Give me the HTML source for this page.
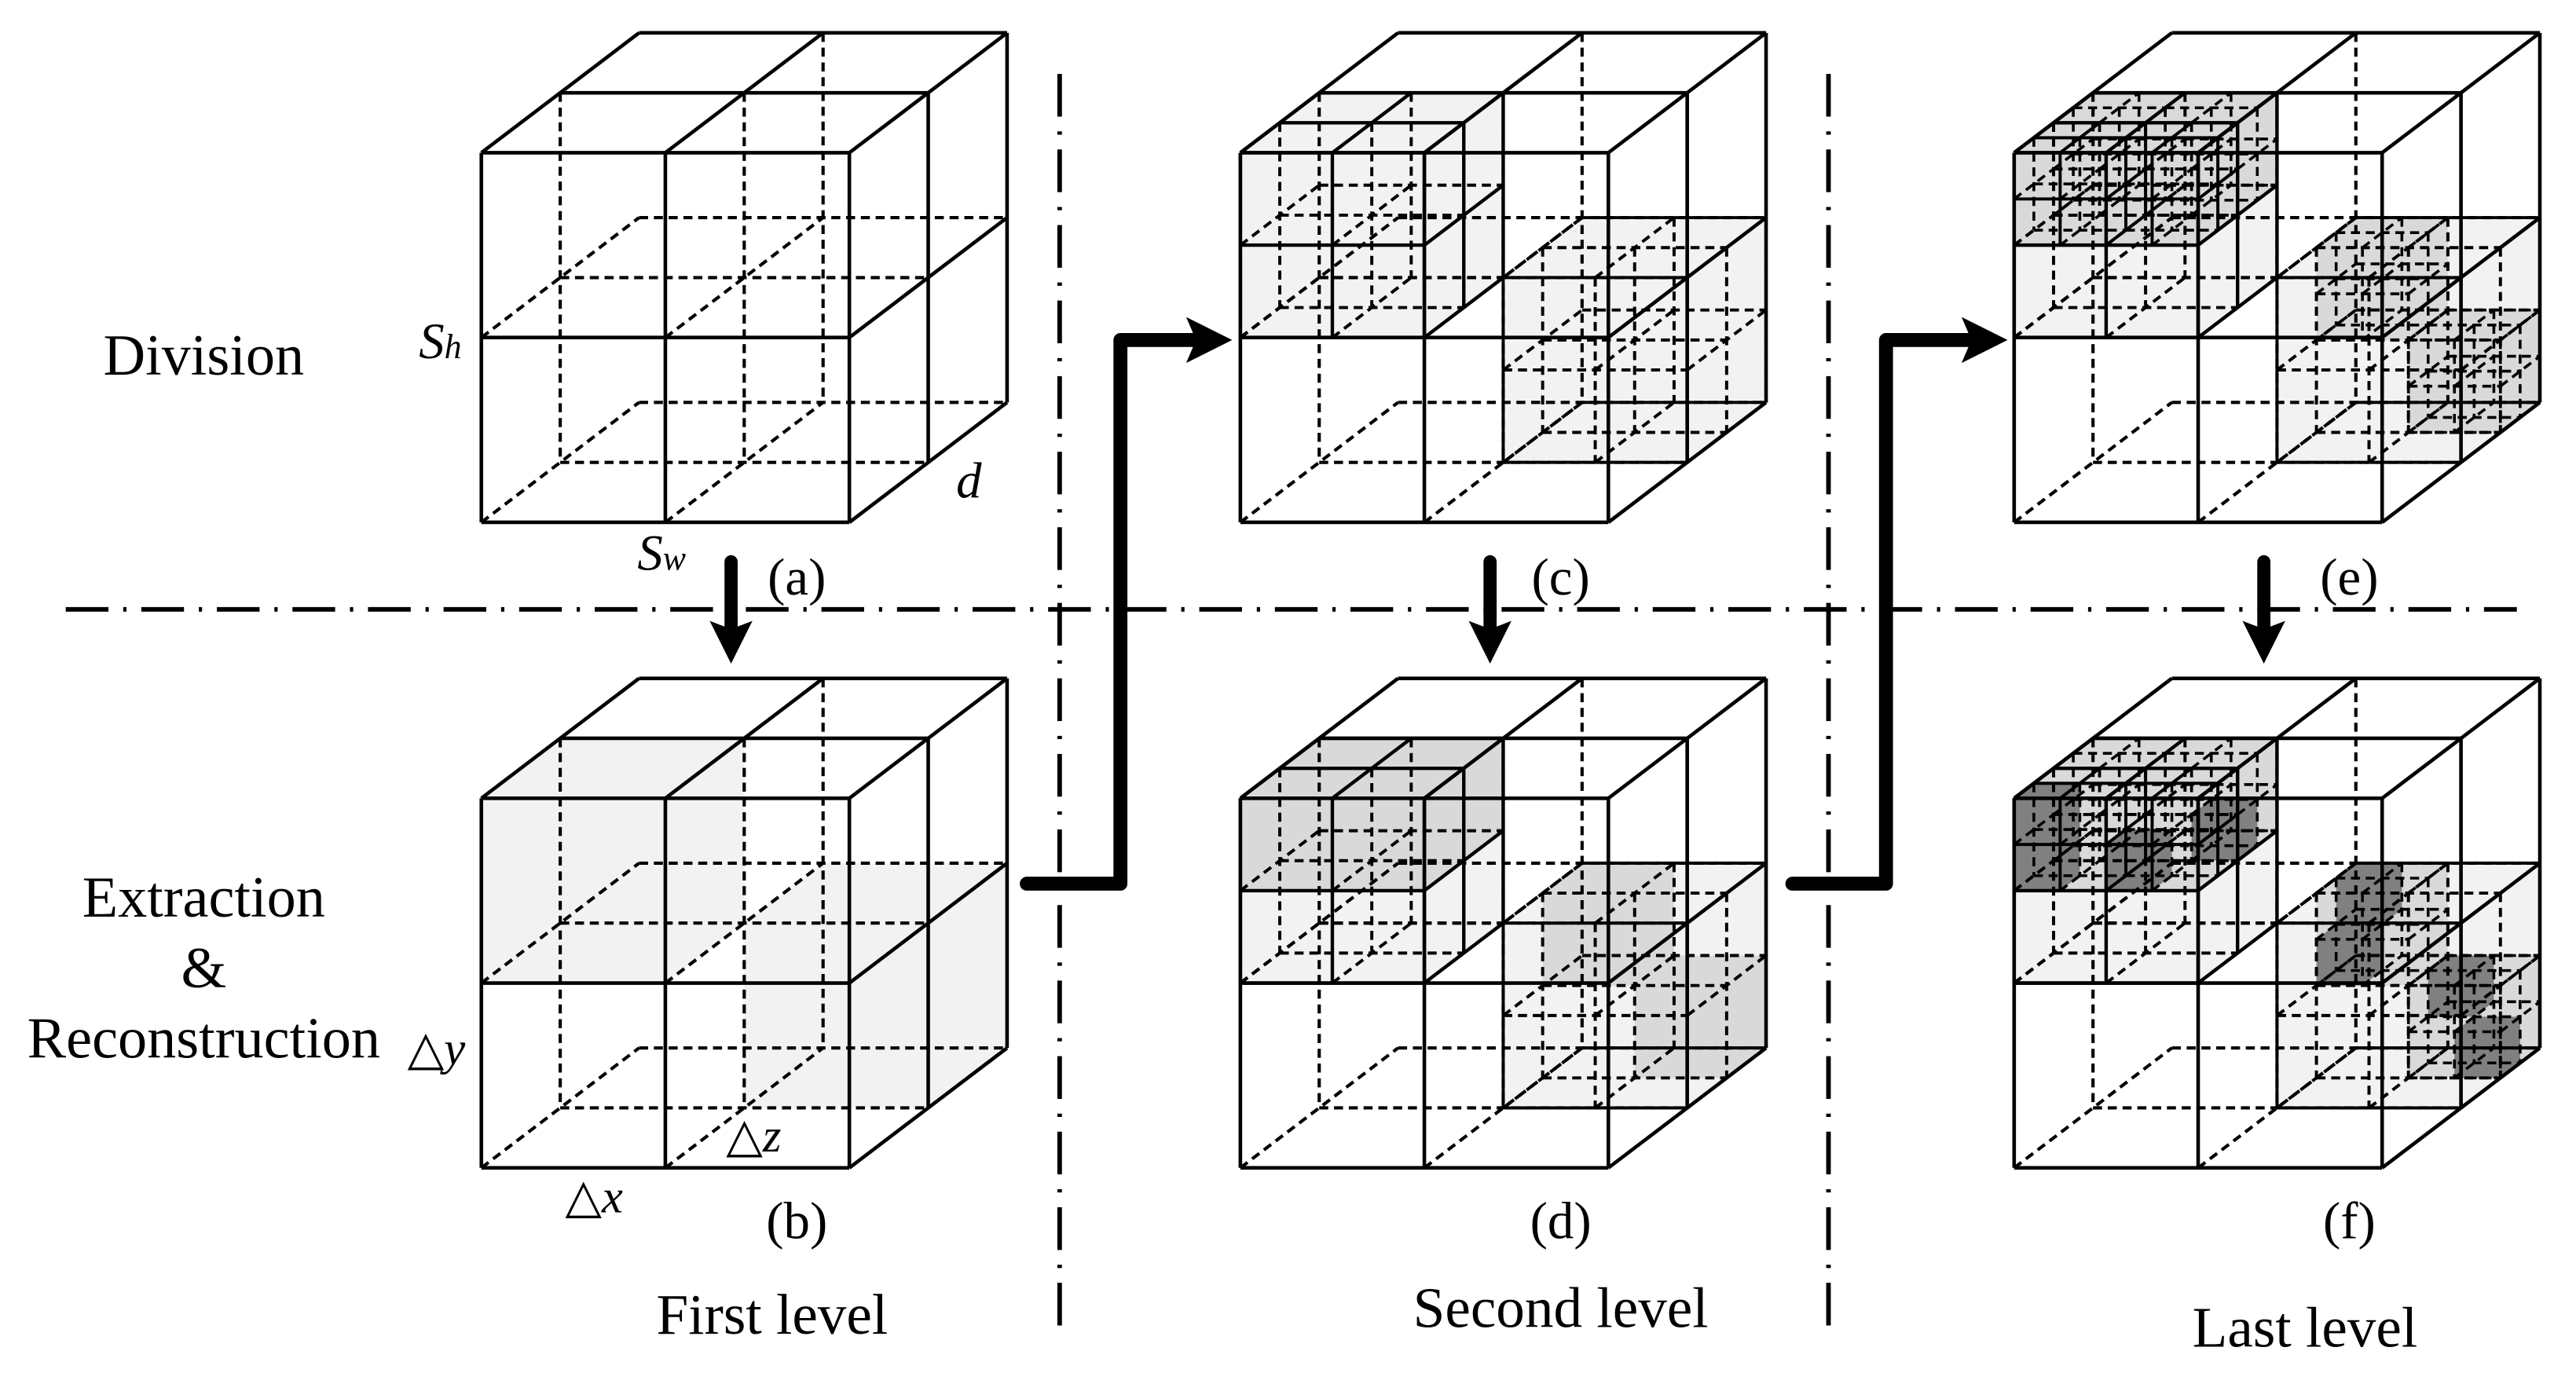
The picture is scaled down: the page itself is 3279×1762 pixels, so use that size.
<!DOCTYPE html>
<html><head><meta charset="utf-8">
<style>
html,body{margin:0;padding:0;background:#fff;}
svg{display:block;}
text{font-family:"Liberation Serif","DejaVu Serif",serif;fill:#000;}
</style></head>
<body>
<svg id="s" xmlns="http://www.w3.org/2000/svg" width="3279" height="1762" viewBox="0 0 1568 842.6" preserveAspectRatio="none">
<rect x="0" y="0" width="1568" height="842.6" fill="#fff"/>
<g id="fills"></g>
<g id="lines" stroke="#000" fill="none" stroke-linecap="butt"></g>
<g id="ann">
  <line x1="40" y1="371" x2="1532" y2="371" stroke="#000" stroke-width="2.8" stroke-dasharray="26 9 2 9"/>
  <line x1="645" y1="45" x2="645" y2="808" stroke="#000" stroke-width="2.8" stroke-dasharray="26 9 2 9"/>
  <line x1="1113" y1="45" x2="1113" y2="808" stroke="#000" stroke-width="2.8" stroke-dasharray="26 9 2 9"/>
  <g stroke="#000" stroke-width="8" stroke-linecap="round" fill="none">
    <line x1="445" y1="342" x2="445" y2="382"/>
    <line x1="907" y1="342" x2="907" y2="382"/>
    <line x1="1378" y1="342" x2="1378" y2="382"/>
  </g>
  <path d="M432 378 L445 383 L458 378 L445 404 Z" fill="#000"/>
  <path d="M894 378 L907 383 L920 378 L907 404 Z" fill="#000"/>
  <path d="M1365 378 L1378 383 L1391 378 L1378 404 Z" fill="#000"/>
  <polyline points="625,538 682,538 682,207 730,207" stroke="#000" stroke-width="8.5" fill="none" stroke-linejoin="round" stroke-linecap="round"/>
  <path d="M722 193 L750 207 L722 221 L728 207 Z" fill="#000"/>
  <polyline points="1091,538 1148,538 1148,207 1200,207" stroke="#000" stroke-width="8.5" fill="none" stroke-linejoin="round" stroke-linecap="round"/>
  <path d="M1194 193 L1222 207 L1194 221 L1200 207 Z" fill="#000"/>
  <text x="124" y="228" font-size="35.5" text-anchor="middle">Division</text>
  <text x="124" y="558" font-size="35.5" text-anchor="middle">Extraction</text>
  <text x="124" y="601" font-size="35.5" text-anchor="middle">&amp;</text>
  <text x="124" y="644" font-size="35.5" text-anchor="middle">Reconstruction</text>
  <text x="485" y="362" font-size="32" text-anchor="middle">(a)</text>
  <text x="485" y="754" font-size="32" text-anchor="middle">(b)</text>
  <text x="950" y="362" font-size="32" text-anchor="middle">(c)</text>
  <text x="950" y="754" font-size="32" text-anchor="middle">(d)</text>
  <text x="1430" y="362" font-size="32" text-anchor="middle">(e)</text>
  <text x="1430" y="754" font-size="32" text-anchor="middle">(f)</text>
  <text x="470" y="812" font-size="35" text-anchor="middle">First level</text>
  <text x="950" y="808" font-size="35" text-anchor="middle">Second level</text>
  <text x="1403" y="820" font-size="35" text-anchor="middle">Last level</text>
  <text x="255" y="218" font-size="31" font-style="italic">S<tspan font-size="21">h</tspan></text>
  <text x="388" y="347" font-size="31" font-style="italic">S<tspan font-size="21">w</tspan></text>
  <text x="582" y="303" font-size="31" font-style="italic">d</text>
  <text x="248" y="648" font-size="29">△<tspan font-style="italic">y</tspan></text>
  <text x="344" y="738" font-size="29">△<tspan font-style="italic">x</tspan></text>
  <text x="442" y="701" font-size="29">△<tspan font-style="italic">z</tspan></text>
</g>
</svg>
<script>
(function(){
var NS="http://www.w3.org/2000/svg";
var F=document.getElementById('fills'), L=document.getElementById('lines');
var LIGHT="#f2f2f2", MED="#d9d9d9", DARK="#808080";
function B(x,y,W,H,DX,DY){return {x:x,y:y,W:W,H:H,DX:DX,DY:DY};}
function P(b,i,j,k){return [b.x+i*b.W/2+k*b.DX/2, b.y+j*b.H/2+k*b.DY/2];}
function sub(b,i,j,k){var p=P(b,i,j,k);return B(p[0],p[1],b.W/2,b.H/2,b.DX/2,b.DY/2);}
function fill(b,c){
  var pts=[P(b,0,0,0),P(b,0,0,2),P(b,2,0,2),P(b,2,2,2),P(b,2,2,0),P(b,0,2,0)];
  var e=document.createElementNS(NS,'polygon');
  e.setAttribute('points',pts.map(function(p){return p[0].toFixed(2)+','+p[1].toFixed(2);}).join(' '));
  e.setAttribute('fill',c);F.appendChild(e);
}
function ln(a,c,dashed,sw){
  var e=document.createElementNS(NS,'line');
  e.setAttribute('x1',a[0].toFixed(2));e.setAttribute('y1',a[1].toFixed(2));
  e.setAttribute('x2',c[0].toFixed(2));e.setAttribute('y2',c[1].toFixed(2));
  e.setAttribute('stroke-width',sw);
  if(dashed){e.setAttribute('stroke-dasharray','5.5 3.5');}
  L.appendChild(e);
}
function wire(b,allDashed,sw){
  var sd=allDashed, i,j,k;
  var swS=sw||2.2, swD=(sw||2.2)*0.9;
  var s=sd?swD:swS;
  for(j=0;j<3;j++) ln(P(b,0,j,0),P(b,2,j,0),sd,s);
  for(i=0;i<3;i++) ln(P(b,i,0,0),P(b,i,2,0),sd,s);
  for(k=1;k<3;k++) ln(P(b,0,0,k),P(b,2,0,k),sd,s);
  for(i=0;i<3;i++) ln(P(b,i,0,0),P(b,i,0,2),sd,s);
  for(k=1;k<3;k++) ln(P(b,2,0,k),P(b,2,2,k),sd,s);
  for(j=1;j<3;j++) ln(P(b,2,j,0),P(b,2,j,2),sd,s);
  [[0,1],[1,1],[1,2]].forEach(function(q){ln(P(b,q[0],0,q[1]),P(b,q[0],2,q[1]),true,swD);});
  for(j=1;j<3;j++)for(k=1;k<3;k++) ln(P(b,0,j,k),P(b,2,j,k),true,swD);
  for(j=1;j<3;j++)for(i=0;i<2;i++) ln(P(b,i,j,0),P(b,i,j,2),true,swD);
}
var W=224,H=225,DX=96,DY=-73;
function cube(x,y){return B(x,y,W,H,DX,DY);}
var a=cube(293,93), b=cube(293,486), c=cube(755,93), d=cube(755,486), e=cube(1226,93), f=cube(1226,486);

wire(a,false,2.2);

fill(sub(b,1,1,1),LIGHT); fill(sub(b,0,0,0),LIGHT);
wire(b,false,2.2);

function level2(cb, medium){
  var A=sub(cb,0,0,0), Bb=sub(cb,1,1,1);
  fill(Bb,LIGHT); fill(A,LIGHT);
  if(medium){
    fill(sub(Bb,0,0,1),MED); fill(sub(Bb,1,1,1),MED);
    for(var i=0;i<2;i++)for(var k=1;k>=0;k--) fill(sub(A,i,0,k),MED);
  }
  wire(cb,false,2.2);
  wire(Bb,true,2.1);
  wire(A,false,2.1);
}
level2(c,false);
level2(d,true);

function level3(cb, dark){
  var A=sub(cb,0,0,0), Bb=sub(cb,1,1,1);
  fill(Bb,LIGHT); fill(A,LIGHT);
  var subsA=[sub(A,0,0,1),sub(A,1,0,1),sub(A,0,0,0),sub(A,1,0,0)];
  var subsB=[sub(Bb,0,0,1),sub(Bb,1,1,1)];
  subsA.concat(subsB).forEach(function(s){fill(s,MED);});
  if(dark){
    fill(sub(subsA[1],1,1,0),DARK);
    fill(sub(subsA[2],0,0,0),DARK); fill(sub(subsA[2],0,1,0),DARK);
    fill(sub(subsA[3],0,1,0),DARK);
    fill(sub(subsB[0],0,0,1),DARK); fill(sub(subsB[0],0,1,0),DARK);
    fill(sub(subsB[1],0,0,1),DARK); fill(sub(subsB[1],1,1,0),DARK);
  }
  wire(cb,false,2.2);
  wire(Bb,true,2.1);
  subsB.forEach(function(s){wire(s,true,1.9);});
  wire(A,false,2.1);
  subsA.forEach(function(s,ix){wire(s,ix>=2?false:true,1.9);});
}
level3(e,false);
level3(f,true);
})();
</script>
</body></html>
